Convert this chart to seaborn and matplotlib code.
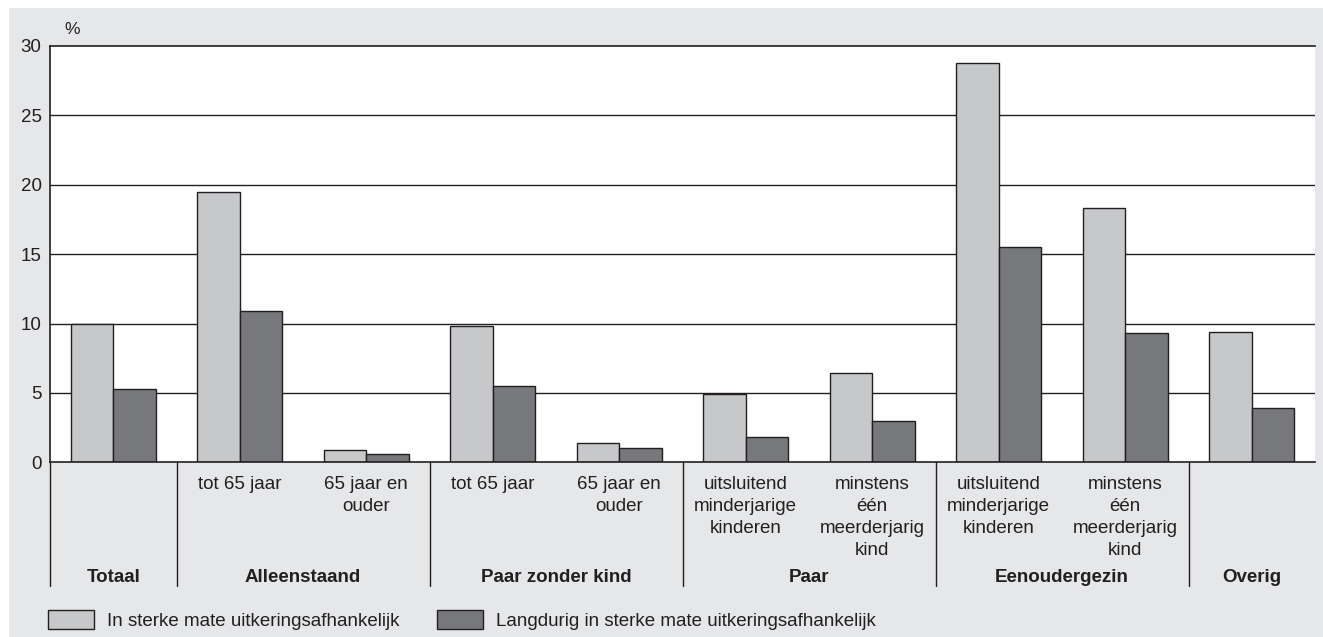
import matplotlib.pyplot as plt
import matplotlib.patches as mpatches
import numpy as np
import pandas as pd
import seaborn as sns

# ─── Data ─────────────────────────────────────────────────────────────────────

groepen = [
    "Totaal", "Alleenstaand", "Alleenstaand", "Paar zonder kind",
    "Paar zonder kind", "Paar", "Paar", "Eenoudergezin", "Eenoudergezin",
    "Overig",
]
subgroepen = [
    "", "tot 65 jaar", "65 jaar en\nouder", "tot 65 jaar", "65 jaar en\nouder",
    "uitsluitend\nminderjarige\nkinderen", "minstens\néén\nmeerderjarig\nkind",
    "uitsluitend\nminderjarige\nkinderen", "minstens\néén\nmeerderjarig\nkind",
    "",
]
sterk = [10.0, 19.5, 0.9, 9.8, 1.4, 4.9, 6.4, 28.8, 18.3, 9.4]
langdurig = [5.3, 10.9, 0.6, 5.5, 1.0, 1.8, 3.0, 15.5, 9.3, 3.9]
reeksen = [
    "In sterke mate uitkeringsafhankelijk",
    "Langdurig in sterke mate uitkeringsafhankelijk",
]
yticks = [0, 5, 10, 15, 20, 25, 30]

# ─── Style ────────────────────────────────────────────────────────────────────

BG = "#e6e7e8"
INK = "#231f20"
COLORS = ["#c7c8ca", "#77787b"]
W, H = 1323, 637
FS = 13.5

sns.set_theme(style="white")
plt.rcParams["font.family"] = ["Liberation Sans", "DejaVu Sans"]
plt.rcParams["text.color"] = INK

keys = [str(i) for i in range(len(groepen))]
df = pd.DataFrame({
    "pos": keys * 2,
    "waarde": sterk + langdurig,
    "reeks": [reeksen[0]] * len(keys) + [reeksen[1]] * len(keys),
})

fig = plt.figure(figsize=(W / 100, H / 100), dpi=100, facecolor="white")
fig.patches.append(mpatches.Rectangle(
    (9 / W, 0), 1, 1 - 8 / H, transform=fig.transFigure,
    facecolor=BG, edgecolor="none", zorder=-10))

ax_left, ax_right = 50 / W, 1315 / W
ax_bottom, ax_top = 1 - 462.3 / H, 1 - 46 / H
ax = fig.add_axes([ax_left, ax_bottom, ax_right - ax_left, ax_top - ax_bottom])
ax.set_facecolor("white")

sns.barplot(
    data=df, x="pos", y="waarde", hue="reeks", order=keys, hue_order=reeksen,
    palette=COLORS, width=0.67, edgecolor=INK, linewidth=1.0, ax=ax, legend=True,
)

ax.set_xlim(-0.5, len(keys) - 0.5)
ax.set_ylim(0, 30)
ax.set_yticks(yticks)
ax.set_yticklabels([str(t) for t in yticks], fontsize=FS, color=INK)
ax.tick_params(axis="y", length=0, pad=6)
ax.set_xticks([])
ax.set_xlabel("")
ax.set_ylabel("")
for t in yticks[1:-1]:
    ax.axhline(t, color=INK, lw=1.0, zorder=0)
for side in ["left", "top", "bottom"]:
    ax.spines[side].set_color(INK)
    ax.spines[side].set_linewidth(1.2)
ax.spines["right"].set_visible(False)
ax.set_axisbelow(True)

# ─── Category table below the axis ────────────────────────────────────────────

trans = ax.get_xaxis_transform()
px = 1 / (ax_top - ax_bottom) / H  # one pixel in axes fraction
table_bottom = -(586 - 462.3) * px

grenzen = [-0.5] + [i + 0.5 for i in range(len(groepen) - 1) if groepen[i] != groepen[i + 1]]
for xb in grenzen:
    ax.plot([xb, xb], [0, table_bottom], transform=trans, color=INK, lw=1.0, clip_on=False)

for i, sub in enumerate(subgroepen):
    if sub:
        ax.text(i, -(476 - 462.3) * px, sub, transform=trans, ha="center", va="top",
                fontsize=FS, linespacing=1.38, color=INK)

for naam in dict.fromkeys(groepen):
    idx = [i for i, g in enumerate(groepen) if g == naam]
    ax.text(np.mean(idx), -(578 - 462.3) * px, naam, transform=trans, ha="center",
            va="center", fontsize=FS, fontweight="bold", color=INK)

fig.text(72 / W, 1 - 29 / H, "%", ha="center", va="center", fontsize=FS - 1, color=INK)

# ─── Legend ───────────────────────────────────────────────────────────────────

handles, labels = ax.get_legend_handles_labels()
ax.get_legend().remove()
fig.legend(
    handles, labels, loc="center left", bbox_to_anchor=(48 / W, 1 - 620 / H),
    ncol=2, frameon=False, fontsize=FS, handlelength=2.45, handleheight=1.2,
    handletextpad=0.7, columnspacing=2.0, borderpad=0, borderaxespad=0,
)

fig.savefig("out.png", dpi=100, facecolor=fig.get_facecolor())
plt.close(fig)
